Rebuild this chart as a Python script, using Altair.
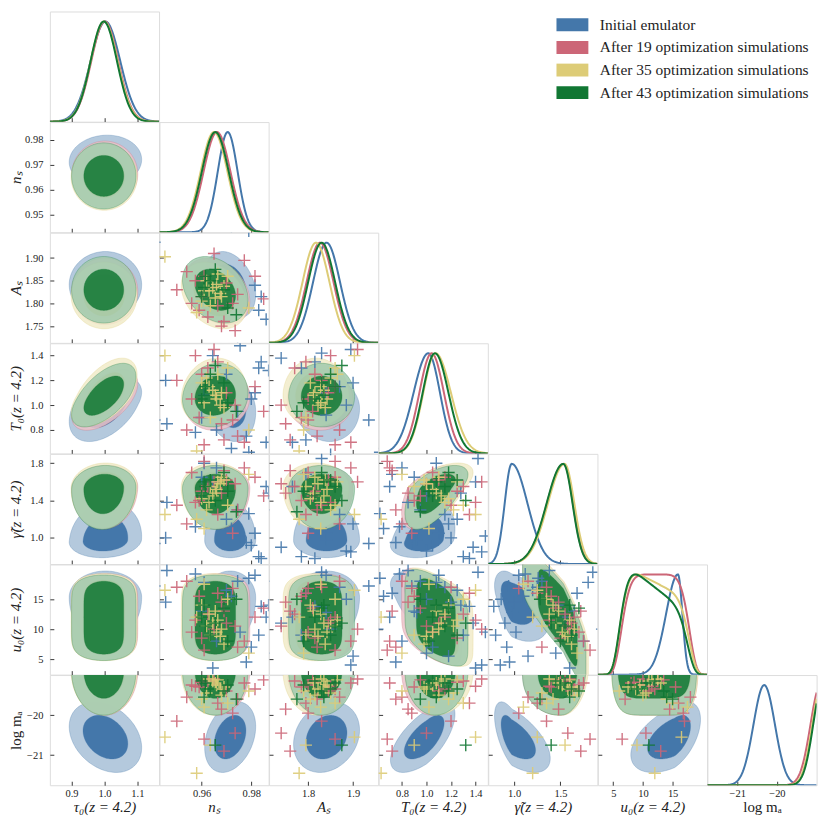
import numpy as np
import pandas as pd
import altair as alt

SERIF = "Liberation Serif"
INK = "#222222"
W, H = 109.6, 110.6

PARAMS = ["tau0", "ns", "As", "T0", "gamma", "u0", "logma"]
TITLES = ["τ₀(z = 4.2)", "nₛ", "Aₛ", "T₀(z = 4.2)", "γ̃(z = 4.2)", "u₀(z = 4.2)", "log mₐ"]
RANGES = [(0.834, 1.166), (0.943, 0.987), (1.713, 1.956), (0.61, 1.50),
          (0.72, 1.90), (2.4, 20.8), (-21.75, -19.0)]
XTICKS = [[0.9, 1.0, 1.1], [0.96, 0.98], [1.8, 1.9], [0.8, 1.0, 1.2, 1.4],
          [1.0, 1.5], [5, 10, 15], [-21, -20]]
YTICKS = [[], [0.95, 0.96, 0.97, 0.98], [1.75, 1.80, 1.85, 1.90],
          [0.8, 1.0, 1.2, 1.4], [1.0, 1.4, 1.8], [5, 10, 15], [-21, -20]]
XFMT = [".1f", ".2f", ".1f", ".1f", ".1f", "d", "d"]
YFMT = [".1f", ".2f", ".2f", ".1f", ".1f", "d", "d"]

SERIES = ["Initial emulator", "After 19 optimization simulations",
          "After 35 optimization simulations", "After 43 optimization simulations"]
COLORS = ["#4477AA", "#CC6677", "#DDCC77", "#117733"]
LIGHT = ["#B4C9DD", "#EBC2C9", "#F1EBC9", "#A0C9AD"]
ALPHA = [1.0, 0.85, 0.85, 0.85]

# 2D posterior summaries (mean, lower / upper widths, shape exponent)
MEAN = [
    [1.003, 0.9715, 1.841, 1.0, 0.974, 15.3, -20.55],
    [1.001, 0.9662, 1.8265, 1.042, 1.535, 12.1, -18.9],
    [0.999, 0.9650, 1.8175, 1.074, 1.545, 12.0, -18.9],
    [0.998, 0.9655, 1.830, 1.069, 1.531, 11.9, -18.9],
]
SIG_LO = [
    [0.045, 0.0042, 0.030, 0.12, 0.076, 3.0, 0.36],
    [0.041, 0.0054, 0.030, 0.10, 0.18, 5.3, 0.45],
    [0.041, 0.0054, 0.030, 0.10, 0.18, 5.4, 0.45],
    [0.040, 0.0054, 0.030, 0.10, 0.18, 5.3, 0.45],
]
SIG_HI = [
    [0.045, 0.0042, 0.030, 0.095, 0.17, 1.8, 0.36],
    [0.041, 0.0054, 0.030, 0.10, 0.10, 5.3, 0.45],
    [0.041, 0.0054, 0.030, 0.125, 0.105, 5.4, 0.45],
    [0.040, 0.0054, 0.030, 0.11, 0.10, 5.3, 0.45],
]
SHAPE_P = [
    [2, 2, 2, 2, 2, 2, 2],
    [2, 2, 2, 2, 2, 6, 2],
    [2, 2, 2, 2, 2, 6, 2],
    [2, 2, 2, 2, 2, 6, 2],
]
TILT_U0 = [0.0, 0.0, -0.18, -0.28]
# 1D marginals that differ from the 2D summaries: (series, param) -> (mean, lower, upper)
ONE_D = {
    (0, 1): (0.9705, 0.0040, 0.0040),
    (0, 3): (1.015, 0.12, 0.095),
    (0, 5): (15.9, 2.0, 0.75),
    (0, 6): (-20.32, 0.27, 0.27),
    (1, 6): (-18.9, 0.254, 0.254),
    (2, 6): (-18.87, 0.24, 0.24),
    (3, 6): (-18.85, 0.236, 0.236),
}

# correlations (blue, red, yellow, green) for (column param, row param)
CORR = {
    (0, 1): (0.05, 0.0, 0.0, 0.0), (0, 2): (0.0, 0.0, 0.0, 0.0),
    (0, 3): (0.45, 0.55, 0.55, 0.6), (0, 4): (0.1, 0.05, 0.05, 0.05),
    (0, 5): (0.0, 0.0, 0.0, 0.0), (0, 6): (-0.3, 0.0, 0.0, 0.0),
    (1, 2): (-0.3, -0.3, -0.3, -0.3), (1, 3): (-0.2, 0.1, 0.1, 0.1),
    (1, 4): (0.0, 0.0, 0.0, 0.0), (1, 5): (0.0, 0.0, 0.0, 0.0),
    (1, 6): (0.3, 0.0, 0.0, 0.0), (2, 3): (-0.1, 0.0, 0.0, 0.0),
    (2, 4): (0.0, 0.0, 0.0, 0.0), (2, 5): (0.0, 0.0, 0.0, 0.0),
    (2, 6): (0.2, 0.0, 0.0, 0.0), (3, 4): (0.3, 0.6, 0.6, 0.6),
    (3, 5): (-0.5, -0.2, -0.2, -0.2), (3, 6): (0.65, 0.0, 0.0, 0.0),
    (4, 5): (-0.45, -0.6, -0.6, -0.6), (4, 6): (-0.6, 0.1, 0.1, 0.1),
    (5, 6): (0.5, 0.0, 0.0, 0.0),
}
LEVELS = [("outer", 2.4477), ("inner", 1.5152)]

# simulation points: (ns, As, T0, gamma, u0, log m_a)
PTS_BLUE = [
    (0.9900, 1.830, 1.42, 1.85, 19.5), (0.9780, 1.990, 0.75, 0.95, 4.5),
    (0.9400, 1.870, 1.15, 1.25, 17.0), (0.9600, 1.980, 0.90, 1.65, 13.0),
    (0.9830, 1.785, 1.30, 0.80, 9.0), (0.9350, 1.700, 1.00, 1.45, 6.0),
    (0.9720, 1.970, 0.65, 1.10, 15.5), (0.9815, 1.840, 1.10, 1.05, 19.0),
    (0.9920, 1.740, 1.38, 0.90, 11.0), (0.9660, 2.000, 0.80, 1.75, 8.0),
    (0.9455, 1.690, 1.20, 1.00, 14.5), (0.9745, 1.700, 0.95, 1.30, 18.0),
    (0.9860, 1.765, 0.70, 1.55, 12.0), (0.9380, 1.895, 1.45, 0.85, 4.0),
    (0.9700, 1.690, 1.25, 1.20, 16.5), (0.9950, 1.850, 0.60, 1.95, 10.0),
    (0.9800, 2.010, 1.05, 0.92, 7.0), (0.9460, 1.990, 0.85, 1.38, 19.8),
    (0.9840, 1.815, 1.35, 0.78, 13.8), (0.9390, 1.795, 0.72, 1.68, 16.0),
    (0.9960, 1.900, 1.18, 1.15, 5.5), (0.9610, 1.680, 1.08, 1.80, 17.8),
    (0.9755, 1.985, 1.48, 1.02, 9.5), (0.9370, 1.840, 0.92, 0.98, 12.8),
    (0.9790, 1.960, 0.62, 1.26, 18.5), (0.9645, 1.695, 1.40, 1.60, 3.5),
    (0.9930, 1.885, 1.00, 0.86, 15.0), (0.9575, 2.020, 0.78, 1.12, 19.2),
    (0.9870, 1.675, 1.28, 1.48, 14.0), (0.9410, 1.935, 0.88, 0.94, 17.2),
]
PTS_RED = [
    (0.9650, 1.910, 1.45, 1.60, 10.0, -19.10), (0.9772, 1.895, 0.70, 1.75, 8.0, -19.20),
    (0.9590, 1.785, 0.90, 1.40, 15.5, -19.30), (0.9625, 1.770, 1.30, 1.55, 12.5, -19.15),
    (0.9745, 1.820, 0.75, 1.30, 7.0, -19.60), (0.9560, 1.800, 1.05, 1.70, 9.5, -19.25),
    (0.9680, 1.750, 0.85, 1.48, 14.5, -19.85), (0.9700, 1.845, 1.10, 1.62, 11.0, -19.40),
    (0.9500, 1.830, 1.20, 1.35, 17.0, -20.15), (0.9850, 1.810, 0.95, 1.45, 13.5, -19.12),
    (0.9610, 1.860, 0.68, 1.82, 6.5, -20.60), (0.9665, 1.795, 1.35, 1.25, 16.0, -19.70),
    (0.9735, 1.740, 1.00, 1.58, 10.5, -20.45), (0.9540, 1.870, 0.80, 1.15, 18.0, -19.55),
    (0.9600, 1.815, 1.25, 1.50, 8.5, -19.18), (0.9815, 1.860, 1.15, 1.65, 12.0, -19.35),
    (0.9690, 1.760, 0.72, 1.72, 13.0, -20.90), (0.9575, 1.850, 1.40, 1.38, 11.5, -19.28),
    (0.9725, 1.800, 0.88, 1.05, 16.8, -19.95),
]
PTS_YELLOW = [
    (0.9645, 1.835, 1.12, 1.45, 11.0, -19.15), (0.9660, 1.842, 1.05, 1.52, 9.5, -19.25),
    (0.9630, 1.828, 1.15, 1.38, 12.5, -19.10), (0.9675, 1.822, 1.00, 1.58, 8.8, -19.35),
    (0.9655, 1.812, 1.08, 1.48, 13.0, -19.20), (0.9620, 1.850, 1.22, 1.30, 10.5, -19.45),
    (0.9690, 1.838, 0.98, 1.62, 7.5, -19.30), (0.9600, 1.805, 1.18, 1.42, 14.0, -19.60),
    (0.9452, 1.903, 1.40, 1.25, 16.5, -20.55), (0.9790, 1.790, 0.80, 1.68, 6.0, -19.40),
    (0.9580, 1.780, 0.63, 1.20, 12.0, -21.45), (0.9705, 1.860, 1.30, 1.35, 15.0, -19.70),
    (0.9635, 1.795, 0.90, 1.55, 9.0, -20.75), (0.9665, 1.865, 1.25, 1.60, 11.5, -19.12),
    (0.9610, 1.828, 1.02, 1.10, 17.5, -19.80), (0.9680, 1.815, 1.10, 1.65, 10.0, -19.50),
]
PTS_GREEN = [
    (0.9615, 1.860, 1.15, 1.55, 10.5, -19.20), (0.9635, 1.850, 1.25, 1.62, 9.0, -19.35),
    (0.9600, 1.815, 1.05, 1.45, 12.0, -19.15), (0.9690, 1.830, 1.18, 1.70, 13.5, -19.40),
    (0.9705, 1.790, 1.02, 1.50, 8.0, -19.25), (0.9740, 1.775, 0.95, 1.28, 15.0, -19.60),
    (0.9655, 1.875, 1.32, 1.40, 11.0, -20.75), (0.9610, 1.835, 1.08, 1.60, 14.0, -19.55),
]
CROSS = "M -1 0 L 1 0 M 0 -1 L 0 1"


def ring(si, c, r, rad):
    t = np.linspace(0, 2 * np.pi, 241)[:-1]
    px, py = SHAPE_P[si][c], SHAPE_P[si][r]
    a, b = np.cos(t), np.sin(t)
    za = np.sign(a) * (rad ** 2 * a ** 2) ** (1.0 / px)
    zb = np.sign(b) * (rad ** 2 * b ** 2) ** (1.0 / py)
    rho = CORR[(c, r)][si]
    zx = za
    zy = rho * za + np.sqrt(1 - rho ** 2) * zb
    x = MEAN[si][c] + zx * np.where(zx < 0, SIG_LO[si][c], SIG_HI[si][c])
    y = MEAN[si][r] + zy * np.where(zy < 0, SIG_LO[si][r], SIG_HI[si][r])
    return x, y


def slices(x, y, n=70):
    N = len(x)
    i0, i1 = int(np.argmin(x)), int(np.argmax(x))
    ia = (i0 + np.arange((i1 - i0) % N + 1)) % N
    ib = (i1 + np.arange((i0 - i1) % N + 1)) % N
    xa, ya = x[ia], y[ia]
    xb, yb = x[ib][::-1], y[ib][::-1]
    xa = np.maximum.accumulate(xa)
    xb = np.maximum.accumulate(xb)
    g = x[i0] + (x[i1] - x[i0]) * (1 - np.cos(np.linspace(0, np.pi, n))) / 2
    ya_g = np.interp(g, xa, ya)
    yb_g = np.interp(g, xb, yb)
    return g, np.minimum(ya_g, yb_g), np.maximum(ya_g, yb_g)


def density(si, k, xs):
    m, slo, shi = ONE_D.get((si, k), (MEAN[si][k], SIG_LO[si][k], SIG_HI[si][k]))
    p = SHAPE_P[si][k]

    def f(v):
        z = np.where(v < m, (v - m) / slo, (v - m) / shi)
        out = np.exp(-0.5 * np.abs(z) ** p)
        if k == 5:
            out = out * np.clip(1 + TILT_U0[si] * (v - m) / (0.5 * (slo + shi)), 0, None)
        return out
    wide = np.linspace(min(xs[0], m - 6 * slo), max(xs[-1], m + 6 * shi), 4000)
    return f(xs) / f(wide).max()


def xaxis(c, show):
    kw = dict(values=XTICKS[c], format=XFMT[c], labels=show, offset=-4, tickSize=4,
              domain=False, grid=False, tickColor=INK, tickWidth=0.9, labelPadding=3,
              labelFont=SERIF, labelFontSize=10.5, labelColor=INK, labelFlush=False,
              labelOverlap=False, minExtent=14, maxExtent=14, titlePadding=4,
              titleFont=SERIF, titleFontSize=15, titleFontWeight="normal", titleColor=INK)
    kw["title"] = TITLES[c] if show else None
    if c < 6:
        kw["titleFontStyle"] = "italic"
    return alt.Axis(**kw)


def yaxis(r, show):
    kw = dict(values=YTICKS[r], format=YFMT[r], labels=show, offset=-4, tickSize=4,
              domain=False, grid=False, tickColor=INK, tickWidth=0.9, labelPadding=7,
              labelFont=SERIF, labelFontSize=10.5, labelColor=INK, labelFlush=False,
              labelOverlap=False, minExtent=26, maxExtent=26, titlePadding=4,
              titleFont=SERIF, titleFontSize=15, titleFontWeight="normal", titleColor=INK)
    kw["title"] = TITLES[r] if show else None
    if r < 6:
        kw["titleFontStyle"] = "italic"
    return alt.Axis(**kw)


def scale(k):
    return alt.Scale(domain=list(RANGES[k]), nice=False, zero=False)


color_scale = alt.Scale(domain=SERIES, range=COLORS)


def points_frame(c, r):
    rows = []
    for si, pts in enumerate([PTS_BLUE, PTS_RED, PTS_YELLOW, PTS_GREEN]):
        for p in pts:
            vals = list(p) + [np.nan] * (6 - len(p))
            xv, yv = vals[c - 1], vals[r - 1]
            if np.isfinite(xv) and np.isfinite(yv):
                rows.append({"x": xv, "y": yv, "s": SERIES[si]})
    return pd.DataFrame(rows)


def pair_panel(r, c):
    xa = xaxis(c, r == 6)
    ya = yaxis(r, c == 0)
    layers = []
    for si in range(4):
        for lvl, rad in LEVELS:
            x, y = ring(si, c, r, rad)
            g, lo, hi = slices(x, y)
            df = pd.DataFrame({"x": g.round(6), "lo": lo.round(6), "hi": hi.round(6)})
            fill = LIGHT[si] if lvl == "outer" else COLORS[si]
            layers.append(
                alt.Chart(df).mark_area(clip=True, fill=fill, fillOpacity=ALPHA[si],
                                        stroke=COLORS[si], strokeWidth=0.5, strokeOpacity=0.55)
                .encode(x=alt.X("x:Q", scale=scale(c), axis=xa),
                        y=alt.Y("lo:Q", scale=scale(r), axis=ya),
                        y2="hi:Q")
            )
    if c >= 1:
        pdf = points_frame(c, r)
        layers.append(
            alt.Chart(pdf).mark_point(shape=CROSS, size=150, strokeWidth=1.4, filled=False,
                                      clip=True, opacity=0.9)
            .encode(x=alt.X("x:Q", scale=scale(c), axis=xa),
                    y=alt.Y("y:Q", scale=scale(r), axis=ya),
                    color=alt.Color("s:N", scale=color_scale, legend=None))
        )
    return alt.layer(*layers).properties(width=W, height=H)


def diag_panel(k):
    xs = np.linspace(RANGES[k][0], RANGES[k][1], 220)
    xa = xaxis(k, k == 6)
    ysc = alt.Scale(domain=[0, 1.1], nice=False, zero=False)
    if k == 0:
        rows = []
        for si in range(4):
            d = density(si, k, xs)
            rows.append(pd.DataFrame({"x": xs.round(6), "d": d.round(5), "s": SERIES[si]}))
        df = pd.concat(rows)
        leg = alt.Legend(orient="none", legendX=502, legendY=6.5, title=None, padding=0,
                         labelFont=SERIF, labelFontSize=15.5, labelColor=INK,
                         symbolType="stroke", symbolSize=1024, symbolStrokeWidth=13,
                         clipHeight=13.7, labelOffset=5, rowPadding=5.7, labelLimit=400)
        return (alt.Chart(df).mark_line(clip=True)
                .encode(x=alt.X("x:Q", scale=scale(k), axis=xa),
                        y=alt.Y("d:Q", scale=ysc, axis=None),
                        color=alt.Color("s:N", scale=color_scale, legend=leg, sort=SERIES))
                .properties(width=W, height=H))
    layers = []
    for si in range(4):
        d = density(si, k, xs)
        df = pd.DataFrame({"x": xs.round(6), "d": d.round(5)})
        layers.append(
            alt.Chart(df).mark_line(clip=True, color=COLORS[si])
            .encode(x=alt.X("x:Q", scale=scale(k), axis=xa),
                    y=alt.Y("d:Q", scale=ysc, axis=None))
        )
    return alt.layer(*layers).properties(width=W, height=H)


def empty_panel():
    return (alt.Chart(pd.DataFrame({"v": [0.0]})).mark_point(opacity=0)
            .encode(x=alt.X("v:Q", axis=None), y=alt.Y("v:Q", axis=None))
            .properties(width=W, height=H, view=alt.ViewBackground(strokeOpacity=0)))


cells = []
for r in range(7):
    for c in range(7):
        if c > r:
            cells.append(empty_panel())
        elif c == r:
            cells.append(diag_panel(r))
        else:
            cells.append(pair_panel(r, c))

chart = (alt.concat(*cells, columns=7, spacing=0, bounds="flush")
         .resolve_legend(color="independent")
         .properties(padding={"left": 0, "top": 1, "right": 4, "bottom": 4})
         .configure_view(stroke=INK, strokeWidth=1.1)
         .configure(font=SERIF))

chart.save("out.html", embed_options={"renderer": "svg", "actions": False})
